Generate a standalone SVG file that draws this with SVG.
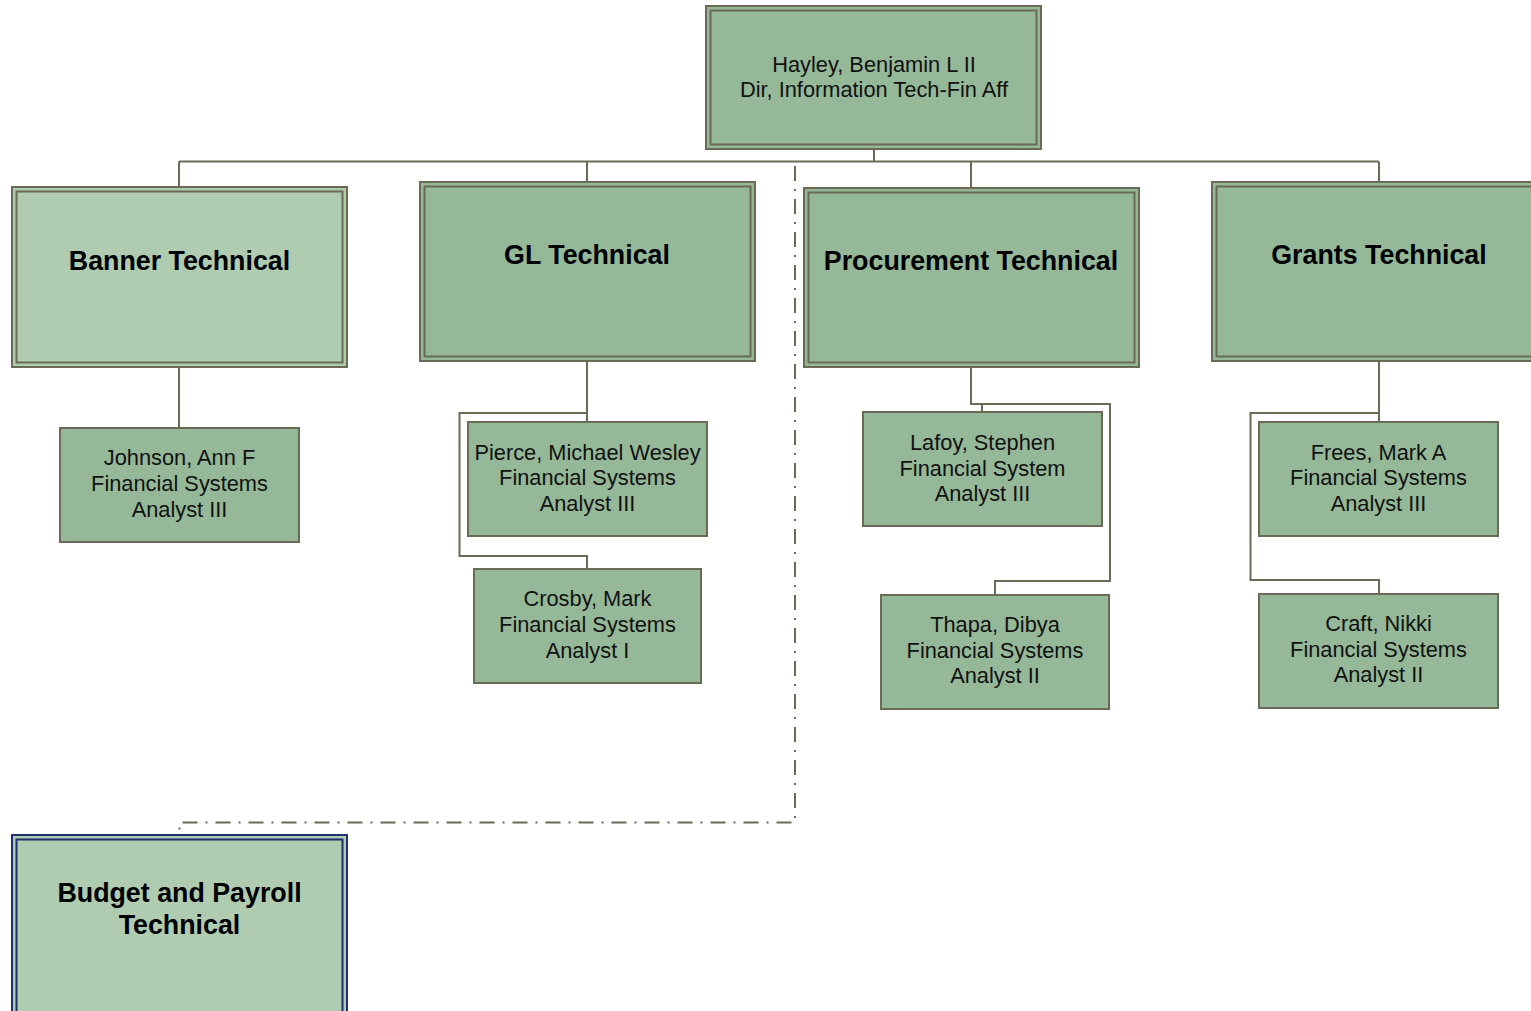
<svg xmlns="http://www.w3.org/2000/svg" width="1531" height="1011" viewBox="0 0 1531 1011">
<style>
.bg{fill:#ffffff}
.o{fill:#95B898;stroke:#6B6B55;stroke-width:2}
.i{fill:#95B898;stroke:#6B6B55;stroke-width:2}
.ol{fill:#AFCBB0;stroke:#6B6B55;stroke-width:2}
.il{fill:#AFCBB0;stroke:#6B6B55;stroke-width:2}
.on{fill:#AFCBB0;stroke:#1F2F6F;stroke-width:2}
.c{fill:#95B898;stroke:#6B6B55;stroke-width:2}
.t{font-family:"Liberation Sans",Arial,sans-serif;font-size:21.8px;fill:#111;text-anchor:middle}
.h{font-family:"Liberation Sans",Arial,sans-serif;font-size:26.8px;font-weight:bold;fill:#000;text-anchor:middle}
.ln{fill:none;stroke:#6B6B55;stroke-width:2}
.dash{fill:none;stroke:#6B6B55;stroke-width:2;stroke-dasharray:15,8,2,8}
</style>
<rect class="bg" x="0" y="0" width="1531" height="1011"/>
<g id="connectors">
<path class="ln" d="M874,150 V161.5 M179,161.5 H1379 M179,161.5 V187 M587,161.5 V182 M971,161.5 V188 M1379,161.5 V182"/>
<path class="ln" d="M179,367 V428"/>
<path class="ln" d="M587,361 V413 H459.5 V556 H587 V569 M587,413 V422"/>
<path class="ln" d="M971,367 V404 H1110 V581 H995 V595 M982,404 V412"/>
<path class="ln" d="M1379,361 V413 H1250.5 V580 H1379 V594 M1379,413 V422"/>
<path class="dash" d="M795,166 V822.5 H179.5 V835"/>
</g>
<g id="node-hayley">
<rect class="o" x="706" y="6" width="335" height="143"/>
<rect class="i" x="710.5" y="10.5" width="326" height="134"/>
<text class="t" x="874" y="71.5">Hayley, Benjamin L II</text>
<text class="t" x="874" y="96.5">Dir, Information Tech-Fin Aff</text>
</g>
<g id="node-banner">
<rect class="ol" x="12" y="187" width="335" height="180"/>
<rect class="il" x="16.5" y="191.5" width="326" height="171"/>
<text class="h" x="179.5" y="269.5">Banner Technical</text>
</g>
<g id="node-gl">
<rect class="o" x="420" y="182" width="335" height="179"/>
<rect class="i" x="424.5" y="186.5" width="326" height="170"/>
<text class="h" x="587" y="263.5">GL Technical</text>
</g>
<g id="node-procurement">
<rect class="o" x="804" y="188" width="335" height="179"/>
<rect class="i" x="808.5" y="192.5" width="326" height="170"/>
<text class="h" x="971" y="269.5">Procurement Technical</text>
</g>
<g id="node-grants">
<rect class="o" x="1212" y="182" width="335" height="179"/>
<rect class="i" x="1216.5" y="186.5" width="326" height="170"/>
<text class="h" x="1379" y="263.5">Grants Technical</text>
</g>
<g id="node-budget">
<rect class="on" x="12" y="835" width="335" height="190"/>
<rect class="on" x="16.5" y="839.5" width="326" height="181"/>
<text class="h" x="179.5" y="901.5">Budget and Payroll</text>
<text class="h" x="179.5" y="933.5">Technical</text>
</g>
<g id="node-johnson">
<rect class="c" x="60" y="428" width="239" height="114"/>
<text class="t" x="179.5" y="464.5">Johnson, Ann F</text>
<text class="t" x="179.5" y="490.5">Financial Systems</text>
<text class="t" x="179.5" y="516.5">Analyst III</text>
</g>
<g id="node-pierce">
<rect class="c" x="468" y="422" width="239" height="114"/>
<text class="t" x="587.5" y="459.5">Pierce, Michael Wesley</text>
<text class="t" x="587.5" y="485">Financial Systems</text>
<text class="t" x="587.5" y="510.5">Analyst III</text>
</g>
<g id="node-crosby">
<rect class="c" x="474" y="569" width="227" height="114"/>
<text class="t" x="587.5" y="606">Crosby, Mark</text>
<text class="t" x="587.5" y="631.5">Financial Systems</text>
<text class="t" x="587.5" y="657.5">Analyst I</text>
</g>
<g id="node-lafoy">
<rect class="c" x="863" y="412" width="239" height="114"/>
<text class="t" x="982.5" y="449.5">Lafoy, Stephen</text>
<text class="t" x="982.5" y="475.5">Financial System</text>
<text class="t" x="982.5" y="501">Analyst III</text>
</g>
<g id="node-thapa">
<rect class="c" x="881" y="595" width="228" height="114"/>
<text class="t" x="995" y="631.5">Thapa, Dibya</text>
<text class="t" x="995" y="657.5">Financial Systems</text>
<text class="t" x="995" y="683">Analyst II</text>
</g>
<g id="node-frees">
<rect class="c" x="1259" y="422" width="239" height="114"/>
<text class="t" x="1378.5" y="459.5">Frees, Mark A</text>
<text class="t" x="1378.5" y="485">Financial Systems</text>
<text class="t" x="1378.5" y="510.5">Analyst III</text>
</g>
<g id="node-craft">
<rect class="c" x="1259" y="594" width="239" height="114"/>
<text class="t" x="1378.5" y="630.5">Craft, Nikki</text>
<text class="t" x="1378.5" y="656.5">Financial Systems</text>
<text class="t" x="1378.5" y="682">Analyst II</text>
</g>
</svg>
